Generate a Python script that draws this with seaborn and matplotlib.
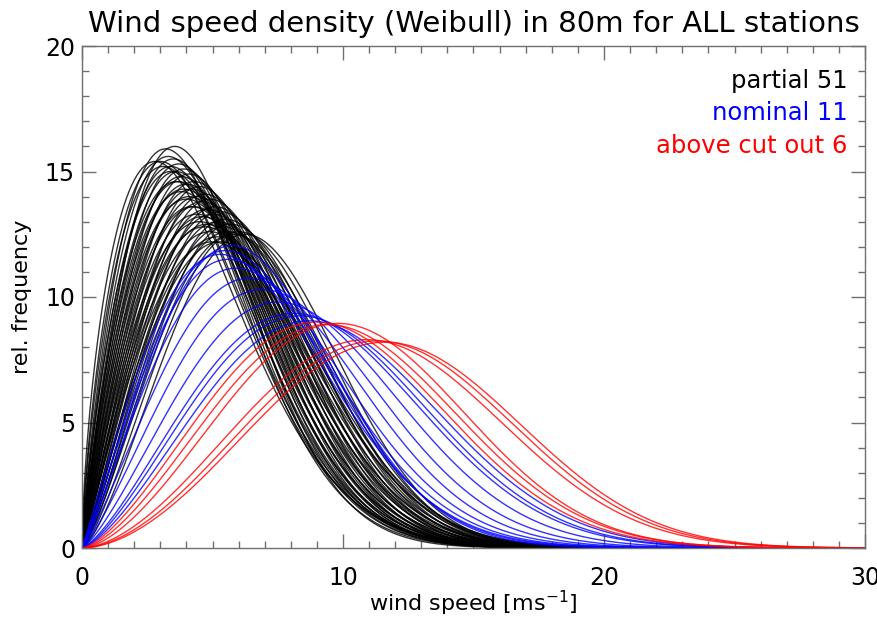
import numpy as np
import pandas as pd
import matplotlib
matplotlib.use("Agg")
import matplotlib.pyplot as plt
import seaborn as sns
from matplotlib.ticker import MultipleLocator

# Each station's Weibull curve as (mode [m/s], peak [%])
partial_mode = [2.8, 3.0, 3.2, 3.55, 3.3, 3.4, 3.5, 3.6, 3.7, 3.8, 3.6, 3.9, 4.0, 3.8, 4.1,
                4.2, 4.0, 4.3, 4.4, 4.2, 4.5, 4.6, 4.4, 4.7, 4.8, 4.5, 4.9, 5.0, 4.7, 5.1,
                5.2, 4.9, 5.3, 5.4, 5.0, 5.5, 5.6, 5.2, 5.7, 5.8, 6.0, 6.25, 3.1, 3.4, 3.7,
                4.1, 4.3, 4.6, 3.9, 4.8, 5.3]
partial_peak = [15.4, 15.4, 15.9, 16.0, 15.6, 15.2, 15.5, 15.0, 15.3, 14.8, 14.6, 15.1, 14.5,
                14.2, 14.9, 14.3, 13.9, 14.6, 14.0, 13.6, 14.4, 13.8, 13.3, 14.1, 13.5, 13.0,
                13.9, 13.3, 12.8, 13.6, 13.0, 12.6, 13.4, 12.8, 12.2, 13.1, 12.6, 12.4, 12.9,
                12.5, 12.6, 12.5, 15.2, 15.0, 14.6, 14.0, 13.6, 13.2, 14.3, 12.9, 12.2]
nominal_mode = [5.75, 5.5, 5.3, 5.6, 5.9, 6.4, 6.9, 7.5, 8.1, 8.35, 8.7]
nominal_peak = [12.05, 11.85, 11.7, 11.5, 11.15, 10.75, 10.3, 9.8, 9.35, 9.25, 9.05]
cutout_mode = [9.0, 9.4, 9.8, 10.9, 11.3, 11.6]
cutout_peak = [9.0, 8.9, 8.95, 8.3, 8.25, 8.2]

group_names = ["partial", "nominal", "above cut out"]
group_colors = ["black", "#0000ff", "#ff0000"]
xticks = [0, 10, 20, 30]
yticks = [0, 5, 10, 15, 20]


def weibull_params(mode, peak):
    """Shape k and scale c of the Weibull density with the given mode and peak (%)."""
    mode = np.asarray(mode, float)
    peak = np.asarray(peak, float) / 100.0
    kg = np.linspace(1.01, 6.0, 5000)
    prod = (kg - 1) * np.exp(-(kg - 1) / kg)      # mode * peak as a function of k
    k = np.interp(mode * peak, prod, kg)
    c = mode / ((k - 1) / k) ** (1 / k)
    return k, c


v = np.linspace(0, 30, 601)
rows = []
sid = 0
for name, md, pk in zip(group_names, [partial_mode, nominal_mode, cutout_mode],
                        [partial_peak, nominal_peak, cutout_peak]):
    ks, cs = weibull_params(md, pk)
    for k, c in zip(ks, cs):
        f = 100 * (k / c) * (v / c) ** (k - 1) * np.exp(-(v / c) ** k)
        rows.append(pd.DataFrame({"v": v, "f": f, "station": sid, "group": name}))
        sid += 1
df = pd.concat(rows, ignore_index=True)

sns.set_theme(style="white")
plt.rcParams["font.family"] = ["DejaVu Sans"]
plt.rcParams["text.color"] = "black"
plt.rcParams["axes.labelcolor"] = "black"

fig = plt.figure(figsize=(8.78, 6.17), dpi=100)
ax = fig.add_axes([82 / 878, 1 - 548 / 617, (865 - 82) / 878, (548 - 46) / 617])

sns.lineplot(data=df, x="v", y="f", units="station", hue="group", estimator=None,
             palette=dict(zip(group_names, group_colors)), legend=False, sort=False,
             lw=1.0, alpha=0.8, ax=ax)

ax.set_xlim(0, 30)
ax.set_ylim(0, 20)
ax.set_xticks(xticks)
ax.set_yticks(yticks)
ax.xaxis.set_minor_locator(MultipleLocator(1))
ax.yaxis.set_minor_locator(MultipleLocator(1))
ax.tick_params(which="both", direction="in", top=True, right=True, bottom=True, left=True,
               color="#707070", width=1)
ax.tick_params(which="major", length=10, labelsize=17, labelcolor="black")
ax.tick_params(axis="x", which="major", pad=13)
ax.tick_params(axis="y", which="major", pad=5)
ax.tick_params(which="minor", length=5)
for s in ax.spines.values():
    s.set_color("#707070")
    s.set_linewidth(1)

ax.set_xlabel(r"wind speed [ms$^{-1}$]", fontsize=16)
ax.xaxis.label.set_va("center")
ax.xaxis.set_label_coords(0.5, (548 - 603) / 502)
ax.set_ylabel("rel. frequency", fontsize=16)
ax.yaxis.label.set_va("center")
ax.yaxis.set_label_coords((22 - 82) / 783, 0.5)
ax.set_title("Wind speed density (Weibull) in 80m for ALL stations", fontsize=21,
             pad=10, color="black")

counts = [len(partial_mode), len(nominal_mode), len(cutout_mode)]
ypos = [0.930, 0.867, 0.801]
for name, col, n, yp in zip(group_names, group_colors, counts, ypos):
    ax.text(0.978, yp, f"{name} {n}", color=col, fontsize=17.5, ha="right", va="center",
            transform=ax.transAxes)

fig.savefig("out.png", dpi=100)
